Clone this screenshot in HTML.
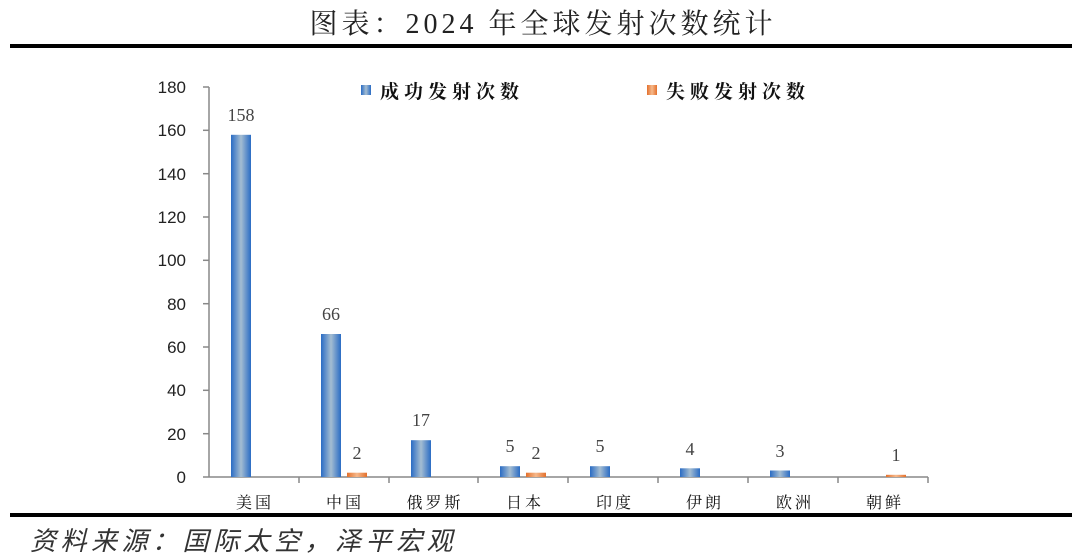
<!DOCTYPE html>
<html><head><meta charset="utf-8"><style>
html,body{margin:0;padding:0;background:#fff;}
svg{display:block;}
</style></head><body>
<svg width="1080" height="556" xmlns="http://www.w3.org/2000/svg">
<defs>
<linearGradient id="b" x1="0" x2="1" y1="0" y2="0">
<stop offset="0" stop-color="#2a6cc4"/><stop offset="0.5" stop-color="#a4bdd2"/><stop offset="1" stop-color="#2a6cc4"/>
</linearGradient>
<linearGradient id="o" x1="0" x2="1" y1="0" y2="0">
<stop offset="0" stop-color="#e3702c"/><stop offset="0.5" stop-color="#f6b98c"/><stop offset="1" stop-color="#e3702c"/>
</linearGradient>
</defs>
<text x="543" y="33" text-anchor="middle" font-family="Liberation Serif, Noto Serif CJK SC, serif" font-size="28" fill="#222" letter-spacing="4">图表：2024 年全球发射次数统计</text>
<rect x="10" y="44" width="1062" height="4" fill="#000"/>
<rect x="10" y="513" width="1062" height="4" fill="#000"/>
<text x="30" y="550" font-family="Liberation Sans, Noto Sans CJK SC, sans-serif" font-size="26" font-style="italic" fill="#333" letter-spacing="4.5">资料来源：国际太空，泽平宏观</text>
<g stroke="#888" stroke-width="1.5" fill="none">
<line x1="209" y1="87" x2="209" y2="477"/>
<line x1="209" y1="477" x2="928" y2="477"/>
<line x1="203" y1="87" x2="209" y2="87"/><line x1="203" y1="130.3" x2="209" y2="130.3"/><line x1="203" y1="173.7" x2="209" y2="173.7"/><line x1="203" y1="217" x2="209" y2="217"/><line x1="203" y1="260.3" x2="209" y2="260.3"/><line x1="203" y1="303.7" x2="209" y2="303.7"/><line x1="203" y1="347" x2="209" y2="347"/><line x1="203" y1="390.3" x2="209" y2="390.3"/><line x1="203" y1="433.7" x2="209" y2="433.7"/><line x1="203" y1="477" x2="209" y2="477"/>
<line x1="299" y1="477" x2="299" y2="483"/><line x1="389" y1="477" x2="389" y2="483"/><line x1="478" y1="477" x2="478" y2="483"/><line x1="568" y1="477" x2="568" y2="483"/><line x1="658" y1="477" x2="658" y2="483"/><line x1="748" y1="477" x2="748" y2="483"/><line x1="838" y1="477" x2="838" y2="483"/><line x1="928" y1="477" x2="928" y2="483"/>
</g>
<g font-family="Liberation Sans, sans-serif" font-size="17" fill="#222" text-anchor="end">
<text x="186" y="93">180</text><text x="186" y="136">160</text><text x="186" y="180">140</text><text x="186" y="223">120</text><text x="186" y="266">100</text><text x="186" y="310">80</text><text x="186" y="353">60</text><text x="186" y="396">40</text><text x="186" y="440">20</text><text x="186" y="483">0</text>
</g>
<g>
<rect x="231" y="134.8" width="20" height="342.2" fill="url(#b)"/>
<rect x="321" y="334" width="20" height="143" fill="url(#b)"/>
<rect x="347" y="472.7" width="20" height="4.3" fill="url(#o)"/>
<rect x="411" y="440.2" width="20" height="36.8" fill="url(#b)"/>
<rect x="500" y="466.2" width="20" height="10.8" fill="url(#b)"/>
<rect x="526" y="472.7" width="20" height="4.3" fill="url(#o)"/>
<rect x="590" y="466.2" width="20" height="10.8" fill="url(#b)"/>
<rect x="680" y="468.3" width="20" height="8.7" fill="url(#b)"/>
<rect x="770" y="470.5" width="20" height="6.5" fill="url(#b)"/>
<rect x="886" y="474.8" width="20" height="2.2" fill="url(#o)"/>
</g>
<g font-family="Liberation Serif, serif" font-size="18" fill="#444" text-anchor="middle">
<text x="241" y="121">158</text><text x="331" y="320">66</text><text x="357" y="459">2</text><text x="421" y="426">17</text><text x="510" y="452">5</text><text x="536" y="459">2</text><text x="600" y="452">5</text><text x="690" y="455">4</text><text x="780" y="457">3</text><text x="896" y="461">1</text>
</g>
<g font-family="Liberation Serif, Noto Serif CJK SC, serif" font-size="16" fill="#111" text-anchor="middle" letter-spacing="3">
<text x="255" y="508">美国</text><text x="345" y="508">中国</text><text x="435" y="508">俄罗斯</text><text x="525" y="508">日本</text><text x="615" y="508">印度</text><text x="705" y="508">伊朗</text><text x="795" y="508">欧洲</text><text x="885" y="508">朝鲜</text>
</g>
<rect x="361" y="85" width="10" height="10" fill="url(#b)"/>
<text x="380" y="98" font-family="Noto Serif CJK SC, serif" font-size="19" font-weight="bold" fill="#111" letter-spacing="5">成功发射次数</text>
<rect x="647" y="85" width="10" height="10" fill="url(#o)"/>
<text x="666" y="98" font-family="Noto Serif CJK SC, serif" font-size="19" font-weight="bold" fill="#111" letter-spacing="5">失败发射次数</text>
</svg>
</body></html>
